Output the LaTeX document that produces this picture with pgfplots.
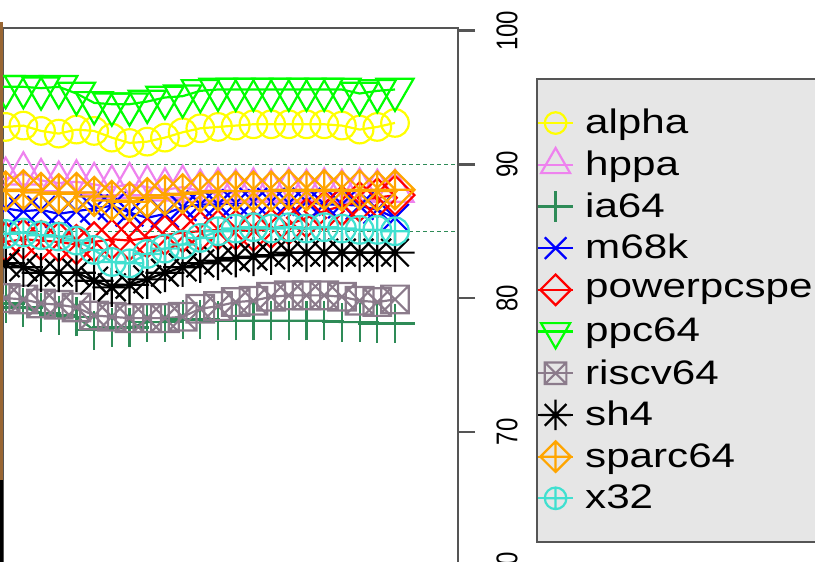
\documentclass[border=0pt]{standalone}
\usepackage{fontspec}
\setmainfont{Liberation Sans}
\usepackage{graphicx}
\usepackage{pgfplots}
\usepackage{pgfplotstable}
\pgfplotsset{compat=1.18}

\definecolor{boxgrey}{HTML}{555555}
\definecolor{legfill}{HTML}{E6E6E6}
\definecolor{cAlpha}{HTML}{FFFF00}
\definecolor{cHppa}{HTML}{EE82EE}
\definecolor{cIa}{HTML}{2E8B57}
\definecolor{cM68}{HTML}{0000FF}
\definecolor{cPpcspe}{HTML}{FF0000}
\definecolor{cPpc}{HTML}{00FF00}
\definecolor{cRiscv}{HTML}{8B7B8B}
\definecolor{cSh}{HTML}{000000}
\definecolor{cSparc}{HTML}{FFA500}
\definecolor{cX}{HTML}{40E0D0}

% R-style plotting symbols (pch 1..10), \pgfplotmarksize = R circle radius
\pgfdeclareplotmark{Rcirc}{\pgfpathcircle{\pgfpointorigin}{\pgfplotmarksize}\pgfusepathqstroke}
\pgfdeclareplotmark{Rtriup}{%
  \pgfpathmoveto{\pgfqpoint{0pt}{1.555\pgfplotmarksize}}%
  \pgfpathlineto{\pgfqpoint{1.347\pgfplotmarksize}{-0.778\pgfplotmarksize}}%
  \pgfpathlineto{\pgfqpoint{-1.347\pgfplotmarksize}{-0.778\pgfplotmarksize}}%
  \pgfpathclose\pgfusepathqstroke}
\pgfdeclareplotmark{Rtridown}{%
  \pgfpathmoveto{\pgfqpoint{0pt}{-1.555\pgfplotmarksize}}%
  \pgfpathlineto{\pgfqpoint{1.347\pgfplotmarksize}{0.778\pgfplotmarksize}}%
  \pgfpathlineto{\pgfqpoint{-1.347\pgfplotmarksize}{0.778\pgfplotmarksize}}%
  \pgfpathclose\pgfusepathqstroke}
\pgfdeclareplotmark{Rplus}{%
  \pgfpathmoveto{\pgfqpoint{-1.414\pgfplotmarksize}{0pt}}\pgfpathlineto{\pgfqpoint{1.414\pgfplotmarksize}{0pt}}%
  \pgfpathmoveto{\pgfqpoint{0pt}{-1.414\pgfplotmarksize}}\pgfpathlineto{\pgfqpoint{0pt}{1.414\pgfplotmarksize}}%
  \pgfusepathqstroke}
\pgfdeclareplotmark{Rx}{%
  \pgfpathmoveto{\pgfqpoint{-\pgfplotmarksize}{-\pgfplotmarksize}}\pgfpathlineto{\pgfqpoint{\pgfplotmarksize}{\pgfplotmarksize}}%
  \pgfpathmoveto{\pgfqpoint{-\pgfplotmarksize}{\pgfplotmarksize}}\pgfpathlineto{\pgfqpoint{\pgfplotmarksize}{-\pgfplotmarksize}}%
  \pgfusepathqstroke}
\pgfdeclareplotmark{Rdiam}{%
  \pgfpathmoveto{\pgfqpoint{0pt}{1.414\pgfplotmarksize}}%
  \pgfpathlineto{\pgfqpoint{1.414\pgfplotmarksize}{0pt}}%
  \pgfpathlineto{\pgfqpoint{0pt}{-1.414\pgfplotmarksize}}%
  \pgfpathlineto{\pgfqpoint{-1.414\pgfplotmarksize}{0pt}}%
  \pgfpathclose\pgfusepathqstroke}
\pgfdeclareplotmark{Rboxx}{%
  \pgfpathrectanglecorners{\pgfqpoint{-\pgfplotmarksize}{-\pgfplotmarksize}}{\pgfqpoint{\pgfplotmarksize}{\pgfplotmarksize}}%
  \pgfpathmoveto{\pgfqpoint{-\pgfplotmarksize}{-\pgfplotmarksize}}\pgfpathlineto{\pgfqpoint{\pgfplotmarksize}{\pgfplotmarksize}}%
  \pgfpathmoveto{\pgfqpoint{-\pgfplotmarksize}{\pgfplotmarksize}}\pgfpathlineto{\pgfqpoint{\pgfplotmarksize}{-\pgfplotmarksize}}%
  \pgfusepathqstroke}
\pgfdeclareplotmark{Rstar}{%
  \pgfpathmoveto{\pgfqpoint{-\pgfplotmarksize}{-\pgfplotmarksize}}\pgfpathlineto{\pgfqpoint{\pgfplotmarksize}{\pgfplotmarksize}}%
  \pgfpathmoveto{\pgfqpoint{-\pgfplotmarksize}{\pgfplotmarksize}}\pgfpathlineto{\pgfqpoint{\pgfplotmarksize}{-\pgfplotmarksize}}%
  \pgfpathmoveto{\pgfqpoint{-1.414\pgfplotmarksize}{0pt}}\pgfpathlineto{\pgfqpoint{1.414\pgfplotmarksize}{0pt}}%
  \pgfpathmoveto{\pgfqpoint{0pt}{-1.414\pgfplotmarksize}}\pgfpathlineto{\pgfqpoint{0pt}{1.414\pgfplotmarksize}}%
  \pgfusepathqstroke}
\pgfdeclareplotmark{Rdiamplus}{%
  \pgfpathmoveto{\pgfqpoint{0pt}{1.414\pgfplotmarksize}}%
  \pgfpathlineto{\pgfqpoint{1.414\pgfplotmarksize}{0pt}}%
  \pgfpathlineto{\pgfqpoint{0pt}{-1.414\pgfplotmarksize}}%
  \pgfpathlineto{\pgfqpoint{-1.414\pgfplotmarksize}{0pt}}%
  \pgfpathclose
  \pgfpathmoveto{\pgfqpoint{-1.414\pgfplotmarksize}{0pt}}\pgfpathlineto{\pgfqpoint{1.414\pgfplotmarksize}{0pt}}%
  \pgfpathmoveto{\pgfqpoint{0pt}{-1.414\pgfplotmarksize}}\pgfpathlineto{\pgfqpoint{0pt}{1.414\pgfplotmarksize}}%
  \pgfusepathqstroke}
\pgfdeclareplotmark{Rcircplus}{%
  \pgfpathcircle{\pgfpointorigin}{\pgfplotmarksize}%
  \pgfpathmoveto{\pgfqpoint{-\pgfplotmarksize}{0pt}}\pgfpathlineto{\pgfqpoint{\pgfplotmarksize}{0pt}}%
  \pgfpathmoveto{\pgfqpoint{0pt}{-\pgfplotmarksize}}\pgfpathlineto{\pgfqpoint{0pt}{\pgfplotmarksize}}%
  \pgfusepathqstroke}

% text in the reference is stretched horizontally
\newcommand\ticklab[1]{\scalebox{1}[1.25]{#1}}
\newcommand\legtext[1]{\makebox[130pt][l]{\scalebox{1.24}[1]{#1}}}

\pgfplotstableread{
x  alpha hppa ia64 m68k ppcspe ppc64 riscv sh4  sparc x32
7  92.8  89.0 79.7 86.6 84.3   95.8  80.0  82.8 88.0  84.8
8  92.8  88.9 79.6 86.7 84.2   95.8  80.0  82.6 88.0  84.8
9  92.9  89.3 79.3 86.5 84.4   95.8  79.9  82.3 88.1  84.9
10 92.5  88.8 78.9 86.6 84.3   95.7  79.6  81.9 87.9  84.7
11 92.3  88.6 78.7 86.3 84.2   95.8  79.5  81.9 87.8  84.6
12 92.6  88.7 78.6 86.5 84.0   95.3  79.3  81.9 87.9  84.3
13 92.5  88.5 77.6 86.7 84.2   94.6  78.7  81.3 87.6  83.6
14 92.0  88.3 77.8 86.9 84.4   94.5  78.6  80.8 87.3  82.7
15 91.6  88.5 77.8 86.4 84.3   94.5  78.5  81.0 87.2  82.6
16 91.7  88.3 78.2 86.0 84.5   94.7  78.5  81.4 87.5  83.3
17 92.0  88.1 78.2 86.3 84.7   95.0  78.5  81.9 87.7  83.7
18 92.4  88.3 78.4 86.8 84.9   95.1  78.6  82.3 87.8  84.0
19 92.7  88.0 78.4 87.0 85.0   95.5  79.2  82.6 87.9  84.5
20 92.8  88.1 78.3 87.0 85.1   95.6  79.4  82.8 88.0  85.0
21 92.9  88.0 78.3 87.1 85.1   95.6  79.7  83.0 88.0  85.2
22 93.0  88.1 78.3 87.2 85.0   95.6  79.8  83.1 88.0  85.3
23 93.0  88.0 78.3 87.2 85.2   95.6  80.1  83.2 88.0  85.2
24 93.0  88.1 78.3 87.1 85.5   95.6  80.2  83.4 88.1  85.3
25 93.0  88.0 78.3 87.2 86.0   95.6  80.2  83.4 88.0  85.2
26 93.0  88.1 78.3 87.0 86.5   95.6  80.2  83.4 88.1  85.3
27 92.9  88.0 78.2 87.0 86.9   95.6  80.1  83.4 88.0  85.2
28 92.6  88.1 78.2 86.9 87.2   95.3  79.8  83.4 88.1  85.1
29 92.8  88.0 78.1 86.6 87.5   95.5  79.7  83.4 88.0  85.1
30 93.1  88.0 78.1 86.0 87.7   95.6  79.9  83.4 88.1  85.0
}\archdata

\begin{document}
\begin{tikzpicture}
\useasboundingbox (0,0) rectangle (407.5pt,-281pt);
\clip (0,0) rectangle (407.5pt,-281pt);
\begin{axis}[
  at={(1.5pt,-14pt)}, anchor=north west,
  scale only axis, width=227.5pt, height=282.1pt,
  xmin=7.85, xmax=33.56, ymin=58, ymax=100.2,
  xtick=\empty,
  ytick={60,70,80,90,100},
  yticklabels={\ticklab{60},\ticklab{70},\ticklab{80},\ticklab{90},\ticklab{100}},
  ytick pos=right, yticklabel pos=right,
  tick align=outside, major tick length=8.5pt,
  axis line style={draw=boxgrey, line width=1.2pt},
  every tick/.style={draw=boxgrey, line width=1.2pt},
  yticklabel style={xshift=10.5pt, rotate=90, anchor=north, inner sep=0pt, font=\fontsize{12}{14}\selectfont},
  every axis plot/.append style={line width=1.1pt, mark size=6.9pt},
  legend cell align=left,
  legend style={at={(1.1714,0.9114)}, anchor=north west,
    draw=boxgrey, line width=1pt, fill=legfill,
    inner xsep=0pt, inner ysep=11.6pt, column sep=5.5pt,
    nodes={inner sep=0pt, minimum height=20.85pt},
    font=\fontsize{17}{20.85}\selectfont},
  legend image code/.code={%
    \draw[mark repeat=2,mark phase=2,#1,mark size=5.4pt]
      plot coordinates {(0pt,0pt) (8.75pt,0pt) (17.5pt,0pt)};},
]
\addplot[color=cAlpha,  mark=Rcirc]     table[x=x,y=alpha]  {\archdata};
\addplot[color=cHppa,   mark=Rtriup]    table[x=x,y=hppa]   {\archdata};
\addplot[color=cIa,     mark=Rplus]     table[x=x,y=ia64]   {\archdata};
\addplot[color=cM68,    mark=Rx]        table[x=x,y=m68k]   {\archdata};
\addplot[color=cPpcspe, mark=Rdiam]     table[x=x,y=ppcspe] {\archdata};
\addplot[color=cPpc,    mark=Rtridown]  table[x=x,y=ppc64]  {\archdata};
\addplot[color=cRiscv,  mark=Rboxx]     table[x=x,y=riscv]  {\archdata};
\addplot[color=cSh,     mark=Rstar]     table[x=x,y=sh4]    {\archdata};
\addplot[color=cSparc,  mark=Rdiamplus] table[x=x,y=sparc]  {\archdata};
\addplot[color=cX,      mark=Rcircplus] table[x=x,y=x32]    {\archdata};
\legend{\legtext{alpha},\legtext{hppa},\legtext{ia64},\legtext{m68k},\legtext{powerpcspe},\legtext{ppc64},\legtext{riscv64},\legtext{sh4},\legtext{sparc64},\legtext{x32}}
\addplot[forget plot, color=cIa, line width=0.7pt, dash pattern=on 2pt off 1.5pt] coordinates {(7.85,90) (33.56,90)};
\addplot[forget plot, color=cIa, line width=0.7pt, dash pattern=on 2pt off 1.5pt] coordinates {(7.85,85) (33.56,85)};
\end{axis}
\fill[color=brown!80!black] (0,-11pt) rectangle (1.5pt,-240pt);
\fill[black] (0,-240pt) rectangle (1.5pt,-281pt);
\end{tikzpicture}
\end{document}
